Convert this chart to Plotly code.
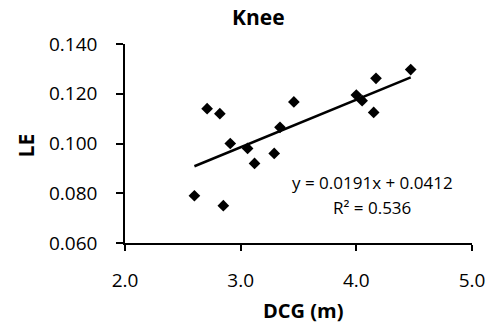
import plotly.graph_objects as go

# Data
dcg = [2.60, 2.71, 2.82, 2.85, 2.91, 3.06, 3.12, 3.29, 3.34, 3.46, 4.00, 4.05, 4.15, 4.17, 4.47]
le = [0.079, 0.114, 0.112, 0.075, 0.100, 0.098, 0.092, 0.096, 0.1065, 0.1167, 0.1195, 0.1172, 0.1125, 0.1262, 0.1297]
slope = 0.0191
intercept = 0.0412
r2 = 0.536
x_ticks = [2.0, 3.0, 4.0, 5.0]
y_ticks = [0.060, 0.080, 0.100, 0.120, 0.140]

FONT = "Open Sans"
W, H = 497, 326
L, R, T, B = 125, 20, 44, 83
pw, ph = W - L - R, H - T - B


def px(x):
    return (x - L) / pw


def py(y):
    return (H - B - y) / ph


fit_x = [min(dcg), max(dcg)]
fit_y = [slope * v + intercept for v in fit_x]

fig = go.Figure()
fig.add_trace(go.Scatter(x=fit_x, y=fit_y, mode="lines",
                         line=dict(color="black", width=2.5), hoverinfo="skip"))
fig.add_trace(go.Scatter(x=dcg, y=le, mode="markers",
                         marker=dict(symbol="diamond", size=9, color="black")))

fig.update_layout(
    width=W, height=H, showlegend=False,
    margin=dict(l=L, r=R, t=T, b=B),
    paper_bgcolor="white", plot_bgcolor="white",
    font=dict(family=FONT, color="black"),
)
fig.update_xaxes(range=[2.0, 5.0], tickvals=x_ticks, ticktext=[f"{v:.1f}" for v in x_ticks],
                 showgrid=False, zeroline=False, showline=True, linecolor="black", linewidth=1.5,
                 ticks="outside", ticklen=6, tickcolor="black", tickwidth=1.5,
                 tickfont=dict(size=19, family=FONT), ticklabelstandoff=13)
fig.update_yaxes(range=[0.060, 0.140], tickvals=y_ticks, ticktext=[f"{v:.3f}" for v in y_ticks],
                 showgrid=False, zeroline=False, showline=True, linecolor="black", linewidth=1.5,
                 ticks="outside", ticklen=7, tickcolor="black", tickwidth=1.5,
                 tickfont=dict(size=19, family=FONT), ticklabelstandoff=15)

ann = [
    dict(text="<b>Knee</b>", x=px(260), y=py(17), size=21),
    dict(text="<b>DCG (m)</b>", x=px(306), y=py(310), size=20),
    dict(text="y = 0.0191x + 0.0412", x=px(376), y=py(182), size=17),
    dict(text=f"R\u00b2 = {r2}", x=px(376), y=py(207), size=17),
]
for a in ann:
    fig.add_annotation(text=a["text"], x=a["x"], y=a["y"], xref="paper", yref="paper",
                       showarrow=False, xanchor="center", yanchor="middle",
                       font=dict(size=a["size"], family=FONT, color="black"))
fig.add_annotation(text="<b>LE</b>", x=px(25), y=py(145), xref="paper", yref="paper",
                   showarrow=False, xanchor="center", yanchor="middle", textangle=-90,
                   font=dict(size=21, family=FONT, color="black"))

fig.write_html("out.html")
